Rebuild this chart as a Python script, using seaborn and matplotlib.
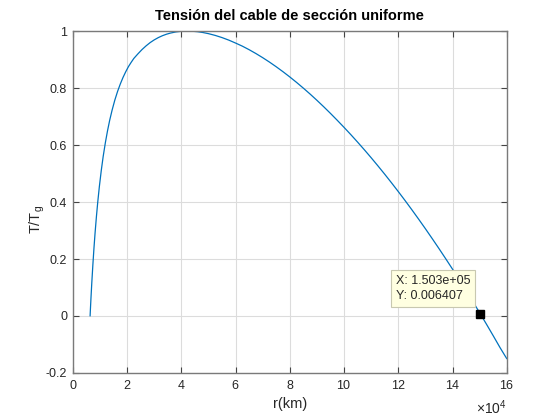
import matplotlib
matplotlib.use("Agg")
import matplotlib.pyplot as plt
import pandas as pd
import seaborn as sns

# radius (km) and normalised tension T/Tg
r_km = [6378, 6500, 6700, 7000, 7400, 7800, 8200, 8700, 9200, 9800,
        10500, 11200, 12000, 12800, 13600, 14500, 15500, 16500, 17500,
        18500, 19500, 20500, 21500, 22500, 24000, 25500, 27000, 28500,
        30000, 31500, 33000, 34500, 36000, 38000, 40000, 42000, 44000,
        46000, 48000, 50000, 52500, 55000, 57500, 60000, 62500, 65000,
        67500, 70000, 72500, 75000, 77500, 80000, 82500, 85000, 87500,
        90000, 92500, 95000, 97500, 100000, 102500, 105000, 107500,
        110000, 112500, 115000, 117500, 120000, 122500, 125000, 127500,
        130000, 132500, 135000, 137500, 140000, 142500, 145000, 147500,
        150000, 152500, 155000, 157500, 160000]
t_norm = [0.000, 0.025, 0.063, 0.116, 0.180, 0.238, 0.290, 0.348, 0.400,
          0.455, 0.511, 0.560, 0.608, 0.650, 0.687, 0.723, 0.758, 0.788,
          0.814, 0.837, 0.857, 0.875, 0.890, 0.904, 0.920, 0.935, 0.948,
          0.9595, 0.969, 0.977, 0.9836, 0.9889, 0.993, 0.997, 0.9992,
          1.000, 0.9995, 0.9978, 0.9949, 0.991, 0.9848, 0.9772, 0.9683,
          0.958, 0.9471, 0.9347, 0.9212, 0.9067, 0.8912, 0.8747, 0.8573,
          0.839, 0.8198, 0.7997, 0.7788, 0.757, 0.7344, 0.711, 0.6868,
          0.662, 0.6365, 0.6102, 0.5832, 0.5554, 0.5268, 0.4975, 0.4674,
          0.4366, 0.4051, 0.3728, 0.3398, 0.3061, 0.2716, 0.2365, 0.2007,
          0.1642, 0.127, 0.0891, 0.0505, 0.0112, -0.0288, -0.0695,
          -0.1109, -0.150]

# data tip
tip_x = 150300
tip_y = 0.006407

xticks = [0, 20000, 40000, 60000, 80000, 100000, 120000, 140000, 160000]
yticks = [-0.2, 0, 0.2, 0.4, 0.6, 0.8, 1]
ytick_labels = ["-0.2", "0", "0.2", "0.4", "0.6", "0.8", "1"]

sns.set_theme(style="whitegrid")
plt.rcParams["font.family"] = ["Liberation Sans", "DejaVu Sans"]
plt.rcParams["axes.unicode_minus"] = False
plt.rcParams["mathtext.default"] = "regular"

df = pd.DataFrame({"r": r_km, "T": t_norm})

fig = plt.figure(figsize=(5.6, 4.2), dpi=100)
ax = fig.add_axes([0.13, 0.112, 0.775, 0.814])

sns.lineplot(data=df, x="r", y="T", sort=False, estimator=None,
             color="#0072BD", linewidth=0.9, ax=ax)

ax.set_xlim(0, 160000)
ax.set_ylim(-0.2, 1)
ax.set_xticks(xticks)
ax.set_yticks(yticks)
ax.set_yticklabels(ytick_labels)
ax.ticklabel_format(axis="x", style="sci", scilimits=(4, 4), useMathText=True)
ax.xaxis.get_offset_text().set_visible(False)
ax.text(1.0, -0.075, r"$\times10^{4}$", transform=ax.transAxes,
        ha="right", va="top", fontsize=10, color="#262626")

ax.grid(True, color="#dcdcdc", linewidth=0.8)
for s in ax.spines.values():
    s.set_visible(True)
    s.set_color("#7a7a7a")
    s.set_linewidth(1.0)
ax.tick_params(direction="in", length=4, width=0.8, color="#444444",
               top=True, right=True, bottom=True, left=True,
               labelsize=9, labelcolor="#262626", pad=4)

ax.set_title("Tensión del cable de sección uniforme", fontsize=10.5,
             fontweight="bold", color="black", pad=8)
ax.set_xlabel("r(km)", fontsize=10.5, color="#262626", labelpad=4)
ax.set_ylabel("T/T$_g$", fontsize=10.5, color="#262626")
ax.yaxis.set_label_coords(-0.06, 0.45)

# data tip marker and box
ax.plot([tip_x], [tip_y], marker="s", color="black", markersize=5.5,
        linestyle="none")
ax.annotate(f"X: {tip_x:.3e}\nY: {tip_y:.6f}",
            xy=(tip_x, tip_y), xytext=(-10, 12), textcoords="offset pixels",
            ha="right", va="bottom", multialignment="left",
            fontsize=9, color="#262626", linespacing=1.3,
            bbox=dict(boxstyle="square,pad=0.4", facecolor="#ffffe1",
                      edgecolor="#c8c8b0", linewidth=0.8))

fig.savefig("out.png", dpi=100)
